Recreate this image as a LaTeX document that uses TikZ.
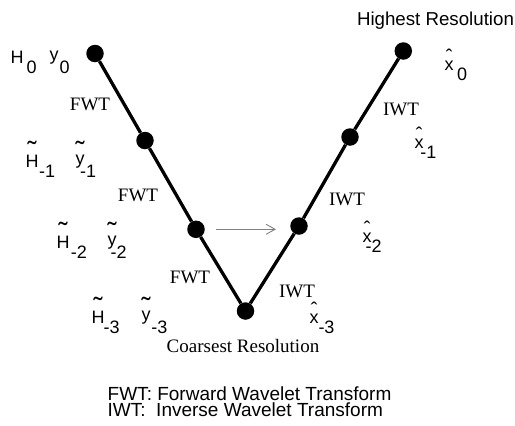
\documentclass[tikz,border=0pt]{standalone}
\usepackage{fontspec}
\setmainfont{Liberation Serif}
\setsansfont{Liberation Sans}
\usepackage{graphicx}
\usetikzlibrary{arrows.meta}

% accent above a letter
\newcommand{\accover}[3]{\leavevmode\setbox0\hbox{#2}\rlap{\hbox to\wd0{\hss\raisebox{#3}{#1}\hss}}\box0}
\newcommand{\sigtilde}[2]{\accover{\scalebox{1.5}{\char"02DC}}{#1}{#2}}
\newcommand{\sighat}[1]{\accover{\scalebox{1.1}{\char"02C6}}{#1}{6.5pt}}
\newcommand{\yup}[1]{\raisebox{3pt}{#1}}
\newcommand{\sublow}[1]{\raisebox{-10pt}{#1}}
\newcommand{\sig}[3]{#1\kern#2pt\sublow{#3}}

\begin{document}
\begin{tikzpicture}[x=1pt, y=-1pt,
    dot/.style={circle, fill=black, inner sep=0pt, minimum size=17.5pt},
    arm/.style={line width=3.3pt},
    xfm/.style={font=\fontsize{19}{19}\selectfont, inner sep=0pt},
    sig/.style={font=\sffamily\fontsize{18}{18}\selectfont, anchor=base west, inner sep=0pt},
    note/.style={font=\sffamily\fontsize{19}{19}\selectfont, anchor=base west, inner sep=0pt}]
  \useasboundingbox (0,0) rectangle (515,426);
  % Punti
  \node[dot] (fwd0) at (95,53.5) {};
  \node[dot] (fwd1) at (145,140.5) {};
  \node[dot] (fwd2) at (196,229.3) {};
  \node[dot] (coarse) at (245.5,311) {};
  \node[dot] (inv2) at (299,226) {};
  \node[dot] (inv1) at (350,137) {};
  \node[dot] (inv0) at (403.3,51) {};
  % V
  \draw[arm] (fwd0) -- (fwd1) -- (fwd2) -- (coarse) -- (inv2) -- (inv1) -- (inv0);
  \draw[gray, line width=0.9pt, -{Straight Barb[length=9pt, width=10pt]},
        shorten <=11.5pt, shorten >=23pt] (fwd2) -- (fwd2 -| inv2);
  % FWT / IWT
  \node[xfm] (f1) at (90,104) {FWT};
  \node[xfm] (f2) at (138,195) {FWT};
  \node[xfm] (f3) at (190,277) {FWT};
  \node[xfm] (i1) at (401,109) {IWT};
  \node[xfm] (i2) at (347,199) {IWT};
  \node[xfm] (i3) at (297,291) {IWT};
  \node[xfm, anchor=base] (coarsest) at (243,352.5) {Coarsest Resolution};
  \node[note, anchor=base] (highest) at (435.5,25) {\fontsize{18.7}{19}\selectfont Highest Resolution};
  % segnali
  \node[sig] (h0) at (10.5,63) {\sig{H}{3}{0}};
  \node[sig] (y0) at (49.5,63) {\sig{\yup{y}}{1}{0}};
  \node[sig] (h1) at (25.5,167) {\sig{\sigtilde{H}{6.3pt}}{0.5}{-1}};
  \node[sig] (y1) at (75.5,167) {\sig{\yup{\sigtilde{y}{3.3pt}}}{-4.5}{-1}};
  \node[sig] (h2) at (56.5,248) {\sig{\sigtilde{H}{6.3pt}}{1.2}{-2}};
  \node[sig] (y2) at (107.5,248) {\sig{\yup{\sigtilde{y}{3.3pt}}}{-6}{-2}};
  \node[sig] (h3) at (91.5,323) {\sig{\sigtilde{H}{6.3pt}}{-1}{-3}};
  \node[sig] (y3) at (141.5,323) {\sig{\yup{\sigtilde{y}{3.3pt}}}{0.8}{-3}};
  \node[sig] (x0) at (444.5,70) {\sig{\sighat{x}}{3.5}{0}};
  \node[sig] (x1) at (414.5,148) {\sig{\sighat{x}}{-3.3}{-1}};
  \node[sig] (x2) at (362.5,242) {\sig{\sighat{x}}{-6}{-2}};
  \node[sig] (x3) at (309.5,323) {\sig{\sighat{x}}{-0.2}{-3}};
  % legenda
  \node[note] (leg1) at (107.5,400.7) {FWT: Forward Wavelet Transform};
  \node[note] (leg2) at (107.5,416.7) {IWT:\ \ Inverse Wavelet Transform};
\end{tikzpicture}
\end{document}
